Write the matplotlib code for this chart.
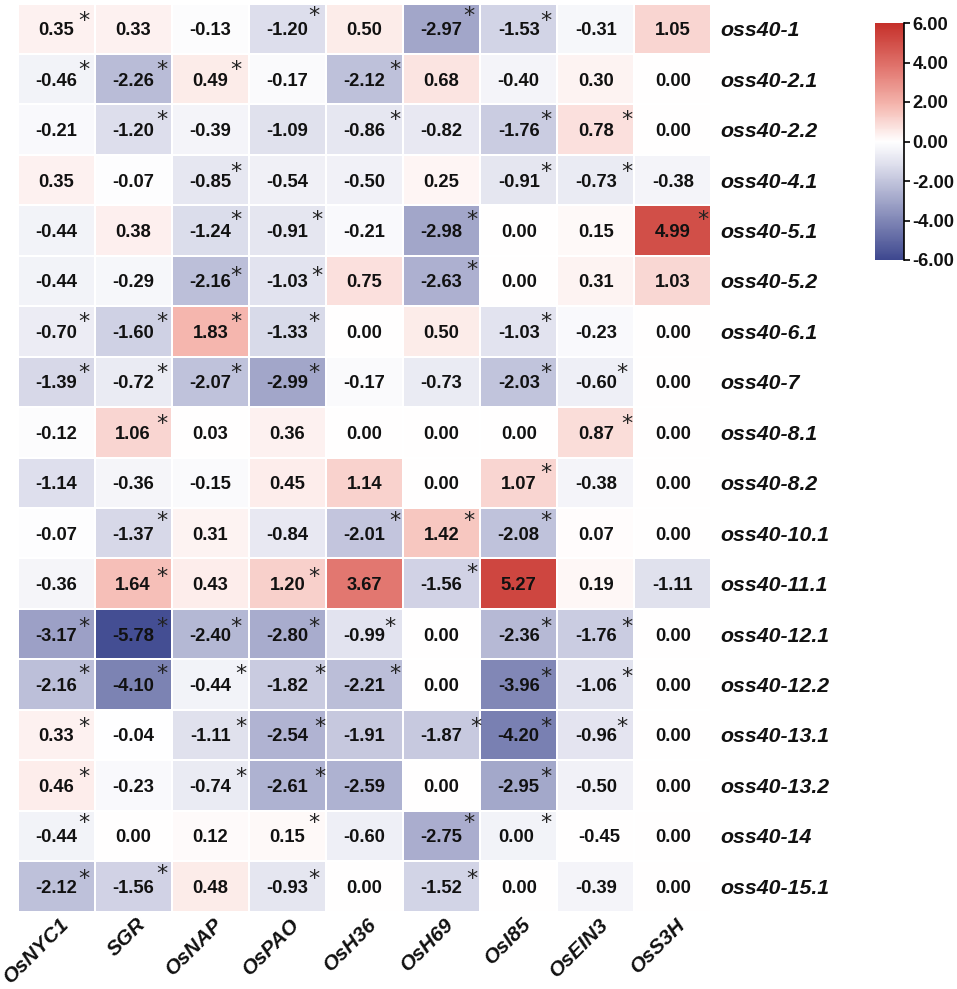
import numpy as np
import matplotlib
matplotlib.use("Agg")
import matplotlib.pyplot as plt
from matplotlib.colors import LinearSegmentedColormap, Normalize
from matplotlib.cm import ScalarMappable

genes = ["OsNYC1", "SGR", "OsNAP", "OsPAO", "OsH36", "OsH69", "OsI85", "OsEIN3", "OsS3H"]
lines = ["oss40-1", "oss40-2.1", "oss40-2.2", "oss40-4.1", "oss40-5.1", "oss40-5.2", "oss40-6.1",
         "oss40-7", "oss40-8.1", "oss40-8.2", "oss40-10.1", "oss40-11.1", "oss40-12.1", "oss40-12.2",
         "oss40-13.1", "oss40-13.2", "oss40-14", "oss40-15.1"]

r01 = [0.35, 0.33, -0.13, -1.20, 0.50, -2.97, -1.53, -0.31, 1.05]
r02 = [-0.46, -2.26, 0.49, -0.17, -2.12, 0.68, -0.40, 0.30, 0.00]
r03 = [-0.21, -1.20, -0.39, -1.09, -0.86, -0.82, -1.76, 0.78, 0.00]
r04 = [0.35, -0.07, -0.85, -0.54, -0.50, 0.25, -0.91, -0.73, -0.38]
r05 = [-0.44, 0.38, -1.24, -0.91, -0.21, -2.98, 0.00, 0.15, 4.99]
r06 = [-0.44, -0.29, -2.16, -1.03, 0.75, -2.63, 0.00, 0.31, 1.03]
r07 = [-0.70, -1.60, 1.83, -1.33, 0.00, 0.50, -1.03, -0.23, 0.00]
r08 = [-1.39, -0.72, -2.07, -2.99, -0.17, -0.73, -2.03, -0.60, 0.00]
r09 = [-0.12, 1.06, 0.03, 0.36, 0.00, 0.00, 0.00, 0.87, 0.00]
r10 = [-1.14, -0.36, -0.15, 0.45, 1.14, 0.00, 1.07, -0.38, 0.00]
r11 = [-0.07, -1.37, 0.31, -0.84, -2.01, 1.42, -2.08, 0.07, 0.00]
r12 = [-0.36, 1.64, 0.43, 1.20, 3.67, -1.56, 5.27, 0.19, -1.11]
r13 = [-3.17, -5.78, -2.40, -2.80, -0.99, 0.00, -2.36, -1.76, 0.00]
r14 = [-2.16, -4.10, -0.44, -1.82, -2.21, 0.00, -3.96, -1.06, 0.00]
r15 = [0.33, -0.04, -1.11, -2.54, -1.91, -1.87, -4.20, -0.96, 0.00]
r16 = [0.46, -0.23, -0.74, -2.61, -2.59, 0.00, -2.95, -0.50, 0.00]
r17 = [-0.44, 0.00, 0.12, 0.15, -0.60, -2.75, 0.00, -0.45, 0.00]
r18 = [-2.12, -1.56, 0.48, -0.93, 0.00, -1.52, 0.00, -0.39, 0.00]
rows = [r01, r02, r03, r04, r05, r06, r07, r08, r09, r10, r11, r12, r13, r14, r15, r16, r17, r18]

# columns (gene index) carrying a significance star, per row
stars = [[0, 3, 5, 6], [0, 1, 2, 4], [1, 4, 6, 7], [2, 6, 7], [2, 3, 5, 8], [2, 3, 5],
         [0, 1, 2, 3, 6], [0, 1, 2, 3, 6, 7], [1, 7], [6], [1, 4, 5, 6], [1, 3, 5],
         [0, 1, 2, 3, 4, 6, 7], [0, 1, 2, 3, 4, 6, 7], [0, 2, 3, 5, 6, 7], [0, 2, 3, 6],
         [0, 3, 5, 6], [0, 1, 3, 5]]
cbar_ticks = [-6, -4, -2, 0, 2, 4, 6]

# layout: star offset from its cell centre in pixels (right, up)
col_dx = [29, 30, 27, 28, 31.5, 31.5, 28, 32, 31]
row_dy = [13, 14, 15, 13, 15.5, 10, 14, 14, 13, 14.5, 17, 11.5, 12, 16, 13, 13, 18, 12]
star_nudge = {(0, 3): (28, 18), (0, 5): (28, 18), (4, 3): (31, 15.5), (5, 3): (31, 10), (5, 5): (31.5, 16),
              (7, 7): (27, 14), (10, 5): (28, 17), (11, 5): (31.5, 15.5), (12, 4): (26.5, 12),
              (13, 2): (32, 16), (13, 3): (33.5, 16), (13, 6): (28, 12.5), (13, 7): (32, 12.5),
              (14, 2): (32, 13), (14, 3): (33.5, 13), (14, 5): (35.5, 13), (14, 7): (27, 13),
              (15, 2): (32, 13), (15, 3): (33.5, 13), (16, 5): (28, 18), (17, 1): (30, 17)}
text_nudge = {(16, 6): -3, (16, 7): 3}

W, H = 957, 989
plt.rcParams["font.family"] = ["Liberation Sans", "DejaVu Sans"]
fig = plt.figure(figsize=(W / 100, H / 100), dpi=100)
def box(x0, y0, x1, y1):
    return [x0 / W, 1 - y1 / H, (x1 - x0) / W, (y1 - y0) / H]

cmap = LinearSegmentedColormap.from_list("rwb", [
    (0.0, "#3e488f"), (4.8 / 12, "#dddeec"), (0.5, "#ffffff"),
    (7.83 / 12, "#f5b7af"), (9.67 / 12, "#e27871"), (1.0, "#c5302a")])
norm = Normalize(-6, 6)
data = np.array(rows)
colour = data.copy()
# in the source these two neighbouring cells have their tints swapped
colour[16, 6], colour[16, 7] = data[16, 7], data[16, 6]

ax = fig.add_axes(box(17.5, 3.5, 711.5, 911.5))
ax.pcolormesh(colour, cmap=cmap, norm=norm, edgecolors="white", linewidth=1.1)
ax.set_xlim(0, len(genes))
ax.set_ylim(len(lines), 0)
for s in ax.spines.values():
    s.set_visible(False)
ax.tick_params(length=0)
ax.set_xticks([])
ax.set_yticks([])

for i, row in enumerate(rows):
    for j, v in enumerate(row):
        ax.annotate(f"{v:.2f}", (j + 0.5, i + 0.5), xytext=(text_nudge.get((i, j), 0), 0),
                    textcoords="offset pixels", ha="center", va="center_baseline",
                    fontsize=13.2, fontweight="bold", color="#111111")
    for j in stars[i]:
        dx, dy = star_nudge.get((i, j), (col_dx[j], row_dy[i]))
        ax.annotate("*", (j + 0.5, i + 0.5), xytext=(dx - 1, dy - 3), textcoords="offset pixels",
                    ha="center", va="center_baseline", fontsize=16, color="#222222",
                    family="DejaVu Sans")
    ax.annotate(lines[i], (len(genes), i + 0.5), xytext=(9, 0), textcoords="offset pixels",
                ha="left", va="center_baseline", fontsize=15.3, fontweight="bold",
                fontstyle="italic", color="#111111", annotation_clip=False)

for j, g in enumerate(genes):
    ax.annotate(g, (j + 0.5, len(lines)), xytext=(3, -3), textcoords="offset pixels",
                ha="right", va="top", rotation=45, rotation_mode="anchor", fontsize=15,
                fontweight="bold", fontstyle="italic", color="#111111", annotation_clip=False)

cax = fig.add_axes(box(875, 23, 904, 260))
cb = fig.colorbar(ScalarMappable(norm, cmap), cax=cax, ticks=cbar_ticks)
cb.outline.set_visible(False)
cax.spines["right"].set_visible(True)
cax.spines["right"].set_linewidth(1.2)
cax.tick_params(length=4, width=1.2, pad=2, labelsize=13.2)
cax.set_yticklabels([f"{t:.2f}" for t in cbar_ticks], fontweight="bold", color="#111111")

fig.savefig("out.png", dpi=100, facecolor="white")
